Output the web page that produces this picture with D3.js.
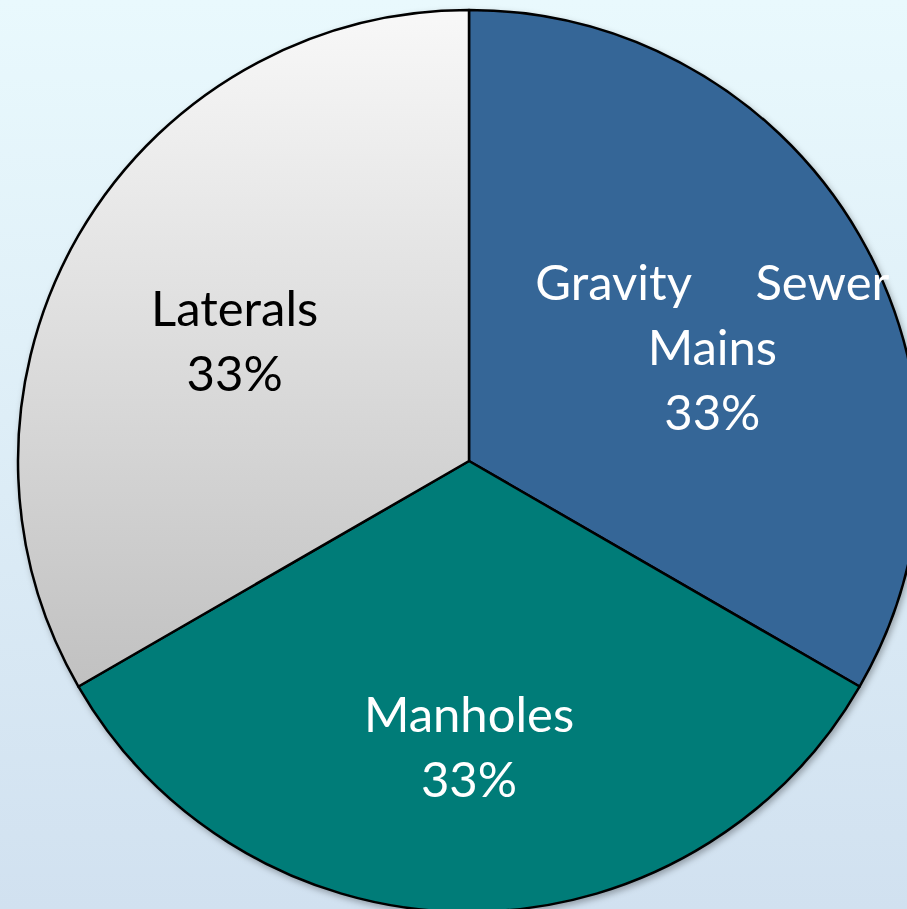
<!DOCTYPE html>
<html>
<head>
<meta charset="utf-8">
<script src="https://cdn.jsdelivr.net/npm/d3@7"></script>
<style>
  html, body { margin: 0; padding: 0; overflow: hidden; }
  svg { display: block; }
</style>
</head>
<body>
<svg id="pie-chart" width="907" height="909"></svg>
<script>
// chart data
const categories = ["Gravity Sewer Mains", "Manholes", "Laterals"];
const values = [1, 1, 1];
const pctLabels = ["33%", "33%", "33%"];

const width = 907, height = 909;
const cx = 469, cy = 461, radius = 451;
const lineH = 65;

const svg = d3.select("#pie-chart");
const defs = svg.append("defs");

const bg = defs.append("linearGradient").attr("id", "bgGrad")
    .attr("x1", 0).attr("y1", 0).attr("x2", 0).attr("y2", 1);
bg.append("stop").attr("offset", 0).attr("stop-color", "#e9f9fd");
bg.append("stop").attr("offset", 1).attr("stop-color", "#d1e1f0");

const grey = defs.append("linearGradient").attr("id", "greyGrad")
    .attr("x1", 0).attr("y1", 0).attr("x2", 0).attr("y2", 1);
grey.append("stop").attr("offset", 0).attr("stop-color", "#f8f8f8");
grey.append("stop").attr("offset", 1).attr("stop-color", "#c1c1c1");

const shadow = defs.append("filter").attr("id", "shadow")
    .attr("x", "-10%").attr("y", "-10%").attr("width", "120%").attr("height", "120%");
shadow.append("feDropShadow").attr("dx", 2).attr("dy", 3).attr("stdDeviation", 3)
    .attr("flood-color", "#000").attr("flood-opacity", 0.3);

svg.append("rect").attr("width", width).attr("height", height).attr("fill", "url(#bgGrad)");

const fills = ["#356697", "#007b78", "url(#greyGrad)"];
const textColors = ["#ffffff", "#ffffff", "#000000"];

const pie = d3.pie().value(d => d).sort(null);
const arc = d3.arc().innerRadius(0).outerRadius(radius);
const labelArc = d3.arc().innerRadius(radius * 0.6).outerRadius(radius * 0.6);

const arcs = pie(values);

const g = svg.append("g").attr("transform", `translate(${cx},${cy})`);

g.append("g").attr("filter", "url(#shadow)")
    .selectAll("path.slice")
    .data(arcs).join("path").attr("class", "slice")
    .attr("d", arc)
    .attr("fill", (d, i) => fills[i])
    .attr("stroke", "#000")
    .attr("stroke-width", 2.5)
    .attr("stroke-linejoin", "round");

const labels = g.append("g").selectAll("text.label")
    .data(arcs).join("text").attr("class", "label")
    .attr("font-family", "Lato, 'Open Sans', sans-serif")
    .attr("font-size", 49)
    .attr("text-anchor", "middle")
    .attr("fill", (d, i) => textColors[i]);

labels.each(function (d, i) {
    const [lx, ly0] = labelArc.centroid(d);
    const ly = ly0 + (i === 0 ? 22 : 16);
    const t = d3.select(this);
    // Gravity Sewer Mains wraps onto a justified first line
    let lines = i === 0 ? [["Gravity", "Sewer"], ["Mains"]] : [[categories[i]]];
    lines = lines.concat([[pctLabels[i]]]);
    const n = lines.length;
    const x0 = i === 0 ? lx + 9 : lx;
    lines.forEach((ln, k) => {
        const by = ly + 17 + (k - (n - 1) / 2) * lineH;
        if (ln.length === 2) {
            t.append("tspan").attr("x", x0 - 177).attr("y", by)
                .attr("text-anchor", "start").text(ln[0]);
            t.append("tspan").attr("x", x0 + 177).attr("y", by)
                .attr("text-anchor", "end").text(ln[1]);
        } else {
            t.append("tspan").attr("x", x0).attr("y", by).text(ln[0]);
        }
    });
});
</script>
</body>
</html>
